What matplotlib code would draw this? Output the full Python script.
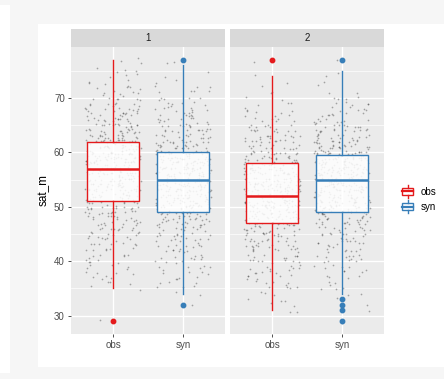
import numpy as np
import matplotlib
matplotlib.use("Agg")
import matplotlib.pyplot as plt
from matplotlib.patches import Rectangle, Patch
from matplotlib.lines import Line2D
from matplotlib.legend_handler import HandlerBase

plt.rcParams["font.family"] = ["Liberation Sans", "DejaVu Sans"]

# sat_m values (integers 29..77) and how many observations sit at each one
VALUES = np.arange(29, 78)
obs_1 = [1, 0, 0, 0, 0, 0, 2, 3, 4, 4, 5, 5, 6, 6, 7, 8, 8, 9, 10, 11, 12, 13, 14, 16, 18,
         20, 21, 22, 22, 24, 24, 23, 22, 22, 16, 15, 14, 12, 11, 10, 8, 7, 6, 5, 4, 3, 3, 2, 2]
syn_1 = [0, 0, 0, 1, 0, 2, 3, 3, 4, 5, 5, 6, 6, 7, 8, 8, 9, 10, 12, 14, 19, 20, 21, 22, 23,
         24, 24, 25, 25, 24, 22, 20, 15, 13, 12, 11, 10, 9, 8, 7, 6, 5, 4, 3, 2, 1, 1, 1, 1]
obs_2 = [0, 0, 2, 2, 3, 3, 4, 5, 6, 6, 7, 8, 8, 9, 10, 11, 12, 13, 16, 20, 22, 24, 25, 26, 26,
         25, 24, 22, 20, 18, 15, 13, 12, 11, 10, 9, 7, 6, 5, 4, 3, 2, 2, 1, 1, 1, 0, 0, 1]
syn_2 = [1, 0, 1, 1, 1, 2, 3, 3, 4, 4, 5, 6, 6, 7, 8, 8, 9, 10, 11, 12, 20, 21, 22, 23, 24,
         25, 26, 26, 25, 24, 21, 20, 16, 14, 12, 11, 10, 8, 7, 6, 5, 4, 2, 1, 1, 1, 1, 0, 1]

PANELS = ["1", "2"]
GROUPS = ["obs", "syn"]
COUNTS = {"1": [obs_1, syn_1], "2": [obs_2, syn_2]}
COLORS = {"obs": "#E41A1C", "syn": "#377EB8"}

W, H = 444, 379


def fx(px):
    return px / W


def fy(py):
    return 1 - py / H


def jitter(n, seed):
    # deterministic scatter offsets in [-0.4, 0.4] (position only, not data)
    k = np.arange(n) + seed * 1000.0
    h = np.sin(k * 12.9898 + seed * 78.233) * 43758.5453
    return (h % 1.0 - 0.5) * 0.8


class BoxHandler(HandlerBase):
    def create_artists(self, legend, orig_handle, xd, yd, width, height, fontsize, trans):
        c = orig_handle.get_edgecolor()
        x0, x1 = -xd + 0.08 * width, -xd + 0.92 * width
        yb = -yd
        xm = (x0 + x1) / 2
        rect = Rectangle((x0, yb + 0.22 * height), x1 - x0, 0.56 * height,
                         facecolor="white", edgecolor=c, lw=1.0, transform=trans)
        med = Line2D([x0, x1], [yb + 0.5 * height] * 2, color=c, lw=1.6, transform=trans)
        w1 = Line2D([xm, xm], [yb - 0.05 * height, yb + 0.22 * height], color=c, lw=1.0, transform=trans)
        w2 = Line2D([xm, xm], [yb + 0.78 * height, yb + 1.05 * height], color=c, lw=1.0, transform=trans)
        return [rect, med, w1, w2]


fig = plt.figure(figsize=(W / 100, H / 100), dpi=100, facecolor="#f6f6f6")
fig.patches.append(Rectangle((fx(38), fy(367)), fx(444 - 38), (367 - 24) / H,
                             transform=fig.transFigure, facecolor="white", edgecolor="none", zorder=-5))
fig.patches.append(Rectangle((0, fy(373)), fx(10), (373 - 5) / H,
                             transform=fig.transFigure, facecolor="white", edgecolor="none", zorder=-5))

lefts = [71, 230]
pw = 154
top, bottom = 47, 334
for i, p in enumerate(PANELS):
    ax = fig.add_axes([fx(lefts[i]), fy(bottom), fx(pw), (bottom - top) / H])
    ax.set_facecolor("#EBEBEB")
    for s in ax.spines.values():
        s.set_visible(False)
    ax.set_xlim(0.4, 2.6)
    ax.set_ylim(26.6, 79.4)
    ax.set_yticks([30, 40, 50, 60, 70])
    ax.set_yticks([35, 45, 55, 65, 75], minor=True)
    ax.set_xticks([1, 2])
    ax.set_xticklabels(GROUPS)
    ax.grid(True, which="major", color="white", lw=1.0)
    ax.grid(True, which="minor", axis="y", color="white", lw=0.5)
    ax.set_axisbelow(True)
    ax.tick_params(axis="both", which="major", length=2.5, width=0.6, color="#333333",
                   labelsize=7, labelcolor="#4D4D4D", pad=2)
    ax.tick_params(axis="y", which="minor", length=0)
    if i > 0:
        ax.tick_params(axis="y", which="major", length=0, labelleft=False)
    else:
        ax.set_ylabel("sat_m", fontsize=8.5, labelpad=3)

    data = []
    for j, g in enumerate(GROUPS):
        y = np.repeat(VALUES, COUNTS[p][j]).astype(float)
        data.append(y)
        n = len(y)
        ax.scatter(j + 1 + jitter(n, 2 * i + j + 1), y + jitter(n, 2 * i + j + 7),
                   s=1.5, color="#333333", alpha=0.4, lw=0, zorder=2)

    bp = ax.boxplot(data, positions=[1, 2], widths=0.75, whis=1.5, patch_artist=True,
                    showcaps=False, manage_ticks=False, zorder=3)
    for j, g in enumerate(GROUPS):
        c = COLORS[g]
        b = bp["boxes"][j]
        b.set_facecolor((1, 1, 1, 0.85))
        b.set_edgecolor(c)
        b.set_linewidth(1.0)
        bp["medians"][j].set_color(c)
        bp["medians"][j].set_linewidth(1.8)
        for w in bp["whiskers"][2 * j:2 * j + 2]:
            w.set_color(c)
            w.set_linewidth(1.0)
        f = bp["fliers"][j]
        f.set_marker("o")
        f.set_markerfacecolor(c)
        f.set_markeredgecolor(c)
        f.set_markersize(3.2)

    sax = fig.add_axes([fx(lefts[i]), fy(top), fx(pw), (top - 29) / H])
    sax.set_facecolor("#D9D9D9")
    sax.set_xticks([])
    sax.set_yticks([])
    for s in sax.spines.values():
        s.set_visible(False)
    sax.text(0.5, 0.5, p, ha="center", va="center", fontsize=7, color="#1A1A1A",
             transform=sax.transAxes)

handles = [Patch(edgecolor=COLORS[g], facecolor="white", label=g) for g in GROUPS]
fig.legend(handles=handles, loc="center left", bbox_to_anchor=(fx(394), fy(199)),
           frameon=False, fontsize=7, handlelength=1.4, handleheight=1.5,
           handletextpad=0.6, labelspacing=0.35, borderpad=0.2,
           handler_map={Patch: BoxHandler()})

fig.savefig("out.png", dpi=100, facecolor=fig.get_facecolor())
